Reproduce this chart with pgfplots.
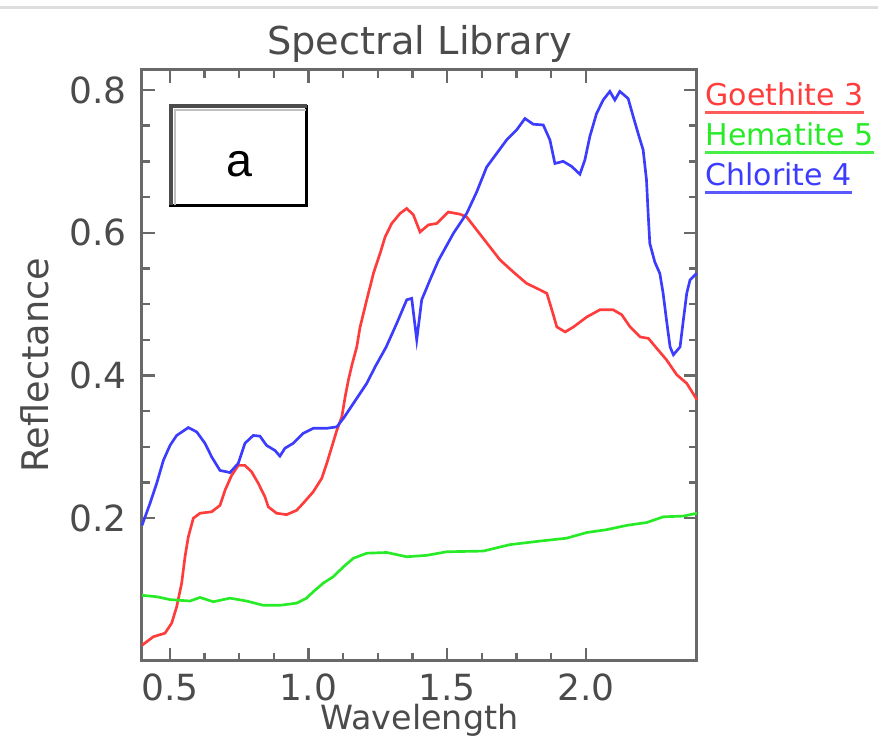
\documentclass[border=0pt]{standalone}
\usepackage{pgfplots}
\pgfplotsset{compat=1.18}
\usepackage{fontspec}
\setmainfont{DejaVu Sans}
\newfontfamily\arialf{Liberation Sans}
\definecolor{cred}{RGB}{255,60,60}
\definecolor{cgreen}{RGB}{40,235,40}
\definecolor{cblue}{RGB}{60,60,255}
\definecolor{axgray}{RGB}{105,105,105}
\definecolor{txtgray}{RGB}{75,75,75}
\begin{document}
\begin{tikzpicture}
\path[use as bounding box] (0,0) rectangle (263.4pt,221.4pt);
\draw[black!13, line width=0.9pt] (0,219.0pt) -- (263.4pt,219.0pt);
\begin{axis}[
  name=ax,
  at={(42.6pt,23.1pt)}, anchor=south west,
  scale only axis, width=166.5pt, height=177.3pt,
  xmin=0.4, xmax=2.4, ymin=0, ymax=0.828,
  xtick={0.5,1.0,1.5,2.0}, ytick={0.2,0.4,0.6,0.8},
  minor x tick num=3, minor y tick num=3,
  tick align=inside, major tick length=4pt, minor tick length=2.4pt,
  axis line style={axgray, line width=0.9pt},
  every tick/.style={axgray, line width=0.7pt},
  /pgf/number format/assume math mode=true,
  /pgf/number format/fixed,
  /pgf/number format/fixed zerofill,
  /pgf/number format/precision=1,
  ticklabel style={font=\fontsize{10.8}{12}\selectfont, text=txtgray},
  xticklabel style={anchor=base, yshift=-12pt},
  yticklabel style={anchor=east, xshift=-1pt},
  title={Spectral Library},
  title style={at={(0.5,1)}, anchor=base, yshift=-1.5pt, font=\fontsize{11.5}{13}\selectfont, text=txtgray},
  xlabel={Wavelength},
  xlabel style={at={(0.5,0)}, anchor=base, yshift=-20.7pt, font=\fontsize{10}{12}\selectfont, text=txtgray},
  clip=false,
]
\addplot[cred, line width=0.8pt] coordinates {
(0.400,0.022) (0.441,0.034) (0.483,0.039) (0.507,0.053) (0.525,0.076)
(0.543,0.109) (0.555,0.146) (0.567,0.174) (0.585,0.200) (0.609,0.207)
(0.651,0.209) (0.681,0.218) (0.699,0.239) (0.723,0.260) (0.747,0.274)
(0.771,0.274) (0.795,0.265) (0.819,0.249) (0.843,0.230) (0.855,0.216)
(0.885,0.207) (0.921,0.205) (0.957,0.211) (0.981,0.221) (1.017,0.237)
(1.048,0.256) (1.066,0.277) (1.084,0.300) (1.102,0.323) (1.120,0.342)
(1.132,0.370) (1.144,0.394) (1.158,0.417) (1.174,0.440) (1.186,0.468)
(1.210,0.506) (1.234,0.543) (1.258,0.571) (1.276,0.594) (1.300,0.613)
(1.330,0.627) (1.354,0.634) (1.378,0.625) (1.402,0.601) (1.432,0.611)
(1.462,0.613) (1.504,0.629) (1.546,0.626) (1.570,0.622) (1.612,0.601)
(1.648,0.583) (1.690,0.562) (1.738,0.545) (1.786,0.529) (1.834,0.520)
(1.859,0.515) (1.877,0.492) (1.895,0.468) (1.925,0.461) (1.955,0.468)
(2.003,0.482) (2.050,0.492) (2.098,0.492) (2.129,0.485) (2.159,0.468)
(2.195,0.454) (2.225,0.452) (2.255,0.438) (2.290,0.422) (2.327,0.401)
(2.363,0.389) (2.400,0.366)
};
\addplot[cgreen, line width=0.8pt] coordinates {
(0.400,0.092) (0.453,0.090) (0.501,0.086) (0.573,0.084) (0.609,0.089)
(0.657,0.083) (0.717,0.088) (0.777,0.084) (0.837,0.078) (0.897,0.078)
(0.957,0.081) (0.993,0.088) (1.017,0.097) (1.053,0.109) (1.089,0.118)
(1.126,0.132) (1.162,0.144) (1.210,0.151) (1.282,0.152) (1.354,0.146)
(1.426,0.148) (1.498,0.153) (1.630,0.154) (1.726,0.163) (1.834,0.168)
(1.930,0.172) (2.003,0.180) (2.075,0.184) (2.147,0.190) (2.219,0.194)
(2.279,0.202) (2.351,0.203) (2.400,0.207)
};
\addplot[cblue, line width=0.8pt] coordinates {
(0.400,0.190) (0.429,0.221) (0.453,0.249) (0.477,0.281) (0.501,0.302)
(0.525,0.316) (0.567,0.327) (0.597,0.321) (0.627,0.305) (0.651,0.286)
(0.681,0.267) (0.717,0.264) (0.747,0.277) (0.771,0.305) (0.801,0.316)
(0.825,0.315) (0.849,0.302) (0.879,0.295) (0.897,0.287) (0.915,0.298)
(0.945,0.305) (0.981,0.319) (1.017,0.326) (1.066,0.326) (1.102,0.328)
(1.126,0.340) (1.162,0.361) (1.210,0.389) (1.240,0.412) (1.280,0.440)
(1.318,0.473) (1.354,0.506) (1.372,0.508) (1.390,0.450) (1.408,0.506)
(1.438,0.534) (1.468,0.561) (1.522,0.599) (1.570,0.627) (1.606,0.657)
(1.642,0.692) (1.678,0.711) (1.714,0.730) (1.750,0.744) (1.780,0.760)
(1.810,0.752) (1.846,0.751) (1.870,0.730) (1.888,0.697) (1.918,0.700)
(1.948,0.693) (1.978,0.682) (1.996,0.702) (2.014,0.735) (2.038,0.767)
(2.062,0.786) (2.086,0.798) (2.104,0.786) (2.122,0.798) (2.152,0.788)
(2.170,0.763) (2.188,0.739) (2.206,0.716) (2.218,0.674) (2.224,0.627)
(2.230,0.585) (2.248,0.559) (2.266,0.543) (2.278,0.515) (2.290,0.478)
(2.303,0.440) (2.315,0.429) (2.339,0.440) (2.351,0.478) (2.363,0.515)
(2.375,0.534) (2.399,0.543)
};
% annotation box "a"
\fill[white] (rel axis cs:0.052,0.771) rectangle (rel axis cs:0.297,0.939);
\draw[black, line width=0.9pt] (rel axis cs:0.052,0.771) rectangle (rel axis cs:0.297,0.939);
\draw[black!70, line width=1.1pt] (rel axis cs:0.052,0.771) -- (rel axis cs:0.052,0.939) -- (rel axis cs:0.297,0.939);
\draw[black!25, line width=0.8pt] ([xshift=1.2pt]rel axis cs:0.052,0.771) -- ([xshift=1.2pt,yshift=-1.2pt]rel axis cs:0.052,0.939) -- ([yshift=-1.2pt]rel axis cs:0.295,0.939);
\node[font=\arialf\fontsize{14}{16}\selectfont, text=black] at (rel axis cs:0.175,0.84) {a};
\coordinate (yl) at (rel axis cs:0,0.5);
\coordinate (tr) at (rel axis cs:1,1);
\end{axis}
\node[rotate=90, anchor=base, font=\fontsize{11}{13}\selectfont, text=txtgray] at ([xshift=-28.2pt]yl) {Reflectance};
\node[anchor=base west, inner sep=0pt, text=cred, font=\fontsize{9}{10}\selectfont] (l1) at ([xshift=2.4pt,yshift=-10.8pt]tr) {Goethite 3};
\draw[cred!85, line width=0.9pt] ([yshift=-2.1pt]l1.base west) -- ([yshift=-2.1pt]l1.base east);
\node[anchor=base west, inner sep=0pt, text=cgreen, font=\fontsize{9}{10}\selectfont] (l2) at ([xshift=2.4pt,yshift=-22.8pt]tr) {Hematite 5};
\draw[cgreen!85, line width=0.9pt] ([yshift=-2.1pt]l2.base west) -- ([yshift=-2.1pt]l2.base east);
\node[anchor=base west, inner sep=0pt, text=cblue, font=\fontsize{9}{10}\selectfont] (l3) at ([xshift=2.4pt,yshift=-34.8pt]tr) {Chlorite 4};
\draw[cblue!85, line width=0.9pt] ([yshift=-2.1pt]l3.base west) -- ([yshift=-2.1pt]l3.base east);
\end{tikzpicture}
\end{document}
